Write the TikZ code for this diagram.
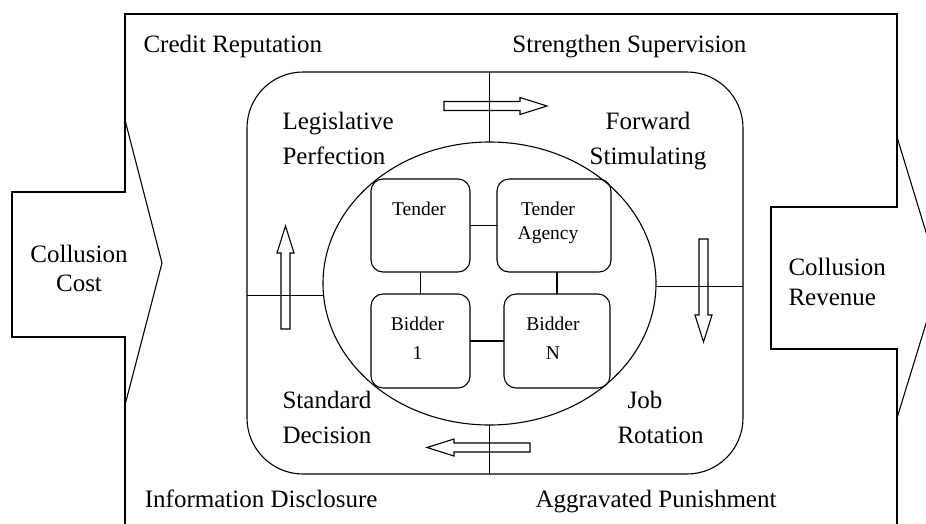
\documentclass[tikz,border=0pt]{standalone}
\usepackage{fontspec}
\setmainfont{Liberation Serif}
\usetikzlibrary{positioning,shapes.geometric}

\tikzset{
  lbl/.style={inner sep=0pt, font=\fontsize{25}{35}\selectfont},
  unit/.style={draw, rounded corners=12pt, minimum height=93pt, inner sep=0pt, outer sep=0pt},
  unittext/.style={inner sep=0pt, align=center, font=\fontsize{19.5}{24}\selectfont},
  hollow/.pic={\draw (0,-4.5) -- (76,-4.5) -- (76,-8.5) -- (103,0) -- (76,8.5) -- (76,4.5) -- (0,4.5) -- cycle;}
}

\begin{document}
\begin{tikzpicture}[x=1pt, y=-1pt, line width=1.1pt]
  \useasboundingbox (0,0) rectangle (926,523);
  \clip (0,0) rectangle (926,523);

  % outer frame with cost and revenue arrows
  \draw (125,560) -- (125,337) -- (12,337) -- (12,192) -- (125,192) -- (125,14)
    -- (897,14) -- (897,207) -- (771,207) -- (771,349) -- (897,349) -- (897,560);
  \draw (125,120) -- (162,263) -- (125,405);
  \draw (897,137) -- (940,278) -- (897,418);

  \node[draw, rounded corners=56pt, minimum width=496pt, minimum height=402pt, inner sep=0pt, outer sep=0pt] (frame) at (495,273) {};
  \node[draw, ellipse, minimum width=333pt, minimum height=283pt, inner sep=0pt, outer sep=0pt] (core) at (489.5,283.5) {};

  \node[unit, minimum width=99pt] (tender) at (420.5,225.5) {};
  \node[unit, minimum width=114pt] (agency) at (554,225.5) {};
  \node[unit, minimum width=99pt, minimum height=94pt] (bidderA) at (420.5,341) {};
  \node[unit, minimum width=106pt, minimum height=94pt] (bidderN) at (557,341) {};

  \node[unittext, below=22pt of tender.north, xshift=-1.5pt] (tenderTxt) {Tender};
  \node[unittext, below=22pt of agency.north, xshift=-6pt] (agencyTxt) {Tender\\Agency};
  \node[unittext, below=22pt of bidderA.north, xshift=-3pt] (bidderATxt) {Bidder\\[5pt]1};
  \node[unittext, below=22pt of bidderN.north, xshift=-4pt] (bidderNTxt) {Bidder\\[5pt]N};

  \draw (tender) -- (agency);
  \draw (tender) -- (bidderA);
  \draw (bidderN.north |- agency.south) -- (bidderN.north);
  \draw (bidderA) -- (bidderN);

  \draw (core.north) -- (core.north |- frame.north);
  \draw (core.south) -- (core.south |- frame.south);
  \draw (core.184) -- (core.184 -| frame.west);
  \draw (core.359) -- (core.359 -| frame.east);

  \pic at (444,106) {hollow};
  \pic[rotate=90] at (285.5,329) {hollow};
  \pic[rotate=-90] at (703.5,239) {hollow};
  \pic[rotate=180] at (530,447.5) {hollow};

  \node[lbl, anchor=base west] (credit) at (143,52) {Credit Reputation};
  \node[lbl, anchor=base east] (supervise) at (747,52) {Strengthen Supervision};
  \node[lbl, anchor=base east] (disclose) at (378,507) {Information Disclosure};
  \node[lbl, anchor=base west] (punish) at (535,507) {Aggravated Punishment};
  \node[lbl, align=left, anchor=north west] (legis) at (282,112) {Legislative\\Perfection};
  \node[lbl, align=center, anchor=north] (forward) at (648,112) {Forward\\Stimulating};
  \node[lbl, align=left, anchor=north west] (standard) at (282,391) {Standard\\Decision};
  \node[lbl, align=left, anchor=north west] (rotation) at (617,391) {\hspace*{10pt}Job\\Rotation};
  \node[lbl, align=center, anchor=north, font=\fontsize{25}{29}\selectfont] (cost) at (79,245) {Collusion\\Cost};
  \node[lbl, align=left, anchor=north west, font=\fontsize{25}{30}\selectfont] (revenue) at (788,258) {Collusion\\Revenue};
\end{tikzpicture}
\end{document}
